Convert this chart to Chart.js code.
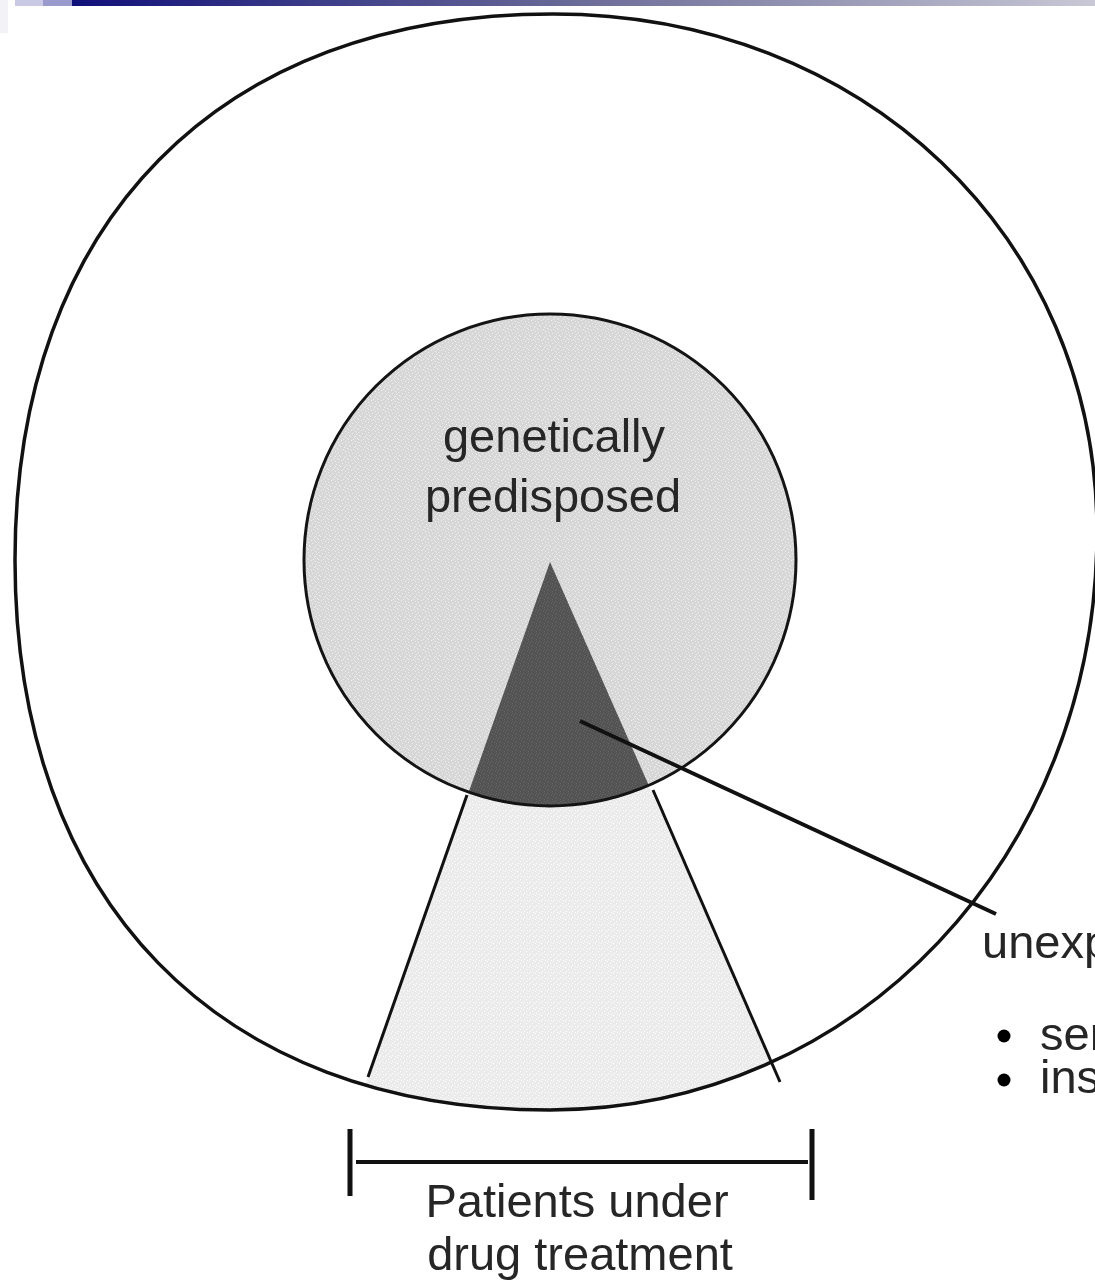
<!DOCTYPE html>
<html>
<head>
<meta charset="utf-8">
<script src="https://cdn.jsdelivr.net/npm/chart.js@4.4.0/dist/chart.umd.min.js"></script>
<style>
    html, body { margin: 0; padding: 0; background: #fff; }
    #wrap { width: 1095px; height: 1285px; position: relative; }
</style>
</head>
<body>
<div id="wrap"><canvas id="diagram"></canvas></div>
<script>
// geometry of the diagram, in chart units (x 0..1095, y 0..1285 from the top)
const outerTop = [553, 14];
const outerRight = [1097, 532];
const outerBottom = [550, 1110];
const outerLeft = [15, 560];
const outerBulge = [0.57, 0.56, 0.62, 0.62]; // TR, BR, BL, TL

const innerCircle = [550, 560, 246]; // cx, cy, r
const wedgeApex = [550, 562];
const wedgeLeft = [368, 1077];
const wedgeRight = [780, 1082];

const coneLeftEdge = [[467, 795], [368, 1077]];
const coneRightEdge = [[653, 790], [780, 1082]];
const pointerLine = [[580, 721], [996, 914]];
const bracketBar = [[356, 1162], [808, 1162]];
const bracketLeft = [[350, 1129], [350, 1196]];
const bracketRight = [[812, 1129], [812, 1200]];

const centerLabel = ["genetically", "predisposed"];
const centerLabelPos = [[554, 452], [553, 512]];
const bottomLabel = ["Patients under", "drug treatment"];
const bottomLabelPos = [[577, 1217], [580, 1270]];
const sideLabel = ["unexpected", "serious", "insufficient"];
const sideLabelPos = [[982, 958], [1040, 1050], [1040, 1093]];
const bulletPos = [[1004, 1036], [1004, 1080]];

const segment = (pts) => pts.map(p => ({ x: p[0], y: p[1] }));

// small fixed stipple tiles, like the halftone of the printed figure
function stipple(base, dot, dots, size) {
    const c = document.createElement("canvas");
    c.width = size; c.height = size;
    const g = c.getContext("2d");
    g.fillStyle = base;
    g.fillRect(0, 0, size, size);
    g.fillStyle = dot;
    dots.forEach(d => g.fillRect(d[0], d[1], 1, 1));
    return c;
}
const innerTile = stipple("#d7d7d7", "#f0f0f0",
    [[1, 0], [5, 1], [8, 2], [2, 3], [6, 4], [9, 5], [0, 6], [4, 7], [7, 8], [3, 9], [8, 9], [5, 6]], 10);
const coneTile = stipple("#ebebeb", "#ffffff", [[1, 1], [4, 3], [2, 5], [5, 0]], 6);
const darkTile = stipple("#535353", "#666666",
    [[0, 1], [3, 0], [5, 2], [1, 4], [4, 5], [2, 2], [6, 6], [7, 3], [0, 7], [3, 6]], 8);

function toPx(chart, p) {
    return [chart.scales.x.getPixelForValue(p[0]), chart.scales.y.getPixelForValue(p[1])];
}

function outerPath(chart, ctx) {
    const t = toPx(chart, outerTop), r = toPx(chart, outerRight);
    const b = toPx(chart, outerBottom), l = toPx(chart, outerLeft);
    const k = outerBulge;
    ctx.beginPath();
    ctx.moveTo(t[0], t[1]);
    ctx.bezierCurveTo(t[0] + (r[0] - t[0]) * k[0], t[1], r[0], r[1] - (r[1] - t[1]) * k[0], r[0], r[1]);
    ctx.bezierCurveTo(r[0], r[1] + (b[1] - r[1]) * k[1], b[0] + (r[0] - b[0]) * k[1], b[1], b[0], b[1]);
    ctx.bezierCurveTo(b[0] - (b[0] - l[0]) * k[2], b[1], l[0], l[1] + (b[1] - l[1]) * k[2], l[0], l[1]);
    ctx.bezierCurveTo(l[0], l[1] - (l[1] - t[1]) * k[3], t[0] - (t[0] - l[0]) * k[3], t[1], t[0], t[1]);
    ctx.closePath();
}

function innerPath(chart, ctx) {
    const c = toPx(chart, innerCircle);
    const r = chart.scales.x.getPixelForValue(innerCircle[0] + innerCircle[2]) - c[0];
    ctx.beginPath();
    ctx.arc(c[0], c[1], r, 0, Math.PI * 2);
    ctx.closePath();
}

function wedgePath(chart, ctx) {
    const a = toPx(chart, wedgeApex), l = toPx(chart, wedgeLeft), r = toPx(chart, wedgeRight);
    ctx.beginPath();
    ctx.moveTo(a[0], a[1]);
    ctx.lineTo(a[0] + (l[0] - a[0]) * 1.3, a[1] + (l[1] - a[1]) * 1.3);
    ctx.lineTo(a[0] + (r[0] - a[0]) * 1.3, a[1] + (r[1] - a[1]) * 1.3);
    ctx.closePath();
}

const shapesPlugin = {
    id: "shapes",
    beforeDatasetsDraw(chart) {
        const ctx = chart.ctx;
        ctx.save();
        // light cone, kept inside the outer ring
        ctx.save();
        outerPath(chart, ctx);
        ctx.clip();
        wedgePath(chart, ctx);
        ctx.fillStyle = ctx.createPattern(coneTile, "repeat");
        ctx.fill();
        ctx.restore();
        // genetically predisposed circle
        innerPath(chart, ctx);
        ctx.fillStyle = ctx.createPattern(innerTile, "repeat");
        ctx.fill();
        // dark overlap
        ctx.save();
        innerPath(chart, ctx);
        ctx.clip();
        wedgePath(chart, ctx);
        ctx.fillStyle = ctx.createPattern(darkTile, "repeat");
        ctx.fill();
        ctx.restore();
        innerPath(chart, ctx);
        ctx.lineWidth = 3;
        ctx.strokeStyle = "#141414";
        ctx.stroke();
        outerPath(chart, ctx);
        ctx.lineWidth = 3.5;
        ctx.strokeStyle = "#111";
        ctx.stroke();
        ctx.restore();
    },
    afterDraw(chart) {
        const ctx = chart.ctx;
        ctx.save();
        // header strip
        const x0 = chart.scales.x.getPixelForValue(0), x1 = chart.scales.x.getPixelForValue(1095);
        const h = chart.scales.y.getPixelForValue(6);
        const grad = ctx.createLinearGradient(72, 0, x1, 0);
        grad.addColorStop(0, "#10107a");
        grad.addColorStop(0.5, "#6c6c98");
        grad.addColorStop(1, "#c8c8d6");
        ctx.fillStyle = grad;
        ctx.fillRect(72, 0, x1 - 72, h);
        ctx.fillStyle = "#c9c9e6";
        ctx.fillRect(15, 0, 28, h);
        ctx.fillStyle = "#9a9acd";
        ctx.fillRect(43, 0, 29, h);
        ctx.fillStyle = "#f3f3f7";
        ctx.fillRect(x0, 0, 8, 33);

        ctx.fillStyle = "#262626";
        ctx.textAlign = "center";
        ctx.textBaseline = "alphabetic";
        ctx.font = "47px 'Liberation Sans', Arial, sans-serif";
        centerLabel.forEach((t, i) => {
            const p = toPx(chart, centerLabelPos[i]);
            ctx.fillText(t, p[0], p[1]);
        });
        bottomLabel.forEach((t, i) => {
            const p = toPx(chart, bottomLabelPos[i]);
            ctx.fillText(t, p[0], p[1]);
        });
        ctx.textAlign = "left";
        sideLabel.forEach((t, i) => {
            const p = toPx(chart, sideLabelPos[i]);
            ctx.fillText(t, p[0], p[1]);
        });
        ctx.fillStyle = "#000";
        bulletPos.forEach(b => {
            const p = toPx(chart, b);
            ctx.beginPath();
            ctx.arc(p[0], p[1], 6.5, 0, Math.PI * 2);
            ctx.fill();
        });
        ctx.restore();
    }
};

const lineSet = (pts, width) => ({
    data: segment(pts),
    showLine: true,
    borderColor: "#111",
    borderWidth: width,
    pointRadius: 0,
    borderCapStyle: "butt",
    clip: false
});

new Chart(document.getElementById("diagram"), {
    type: "scatter",
    data: {
        datasets: [
            lineSet(coneLeftEdge, 3),
            lineSet(coneRightEdge, 3),
            lineSet(pointerLine, 4),
            lineSet(bracketBar, 4),
            lineSet(bracketLeft, 5),
            lineSet(bracketRight, 5)
        ]
    },
    options: {
        responsive: true,
        maintainAspectRatio: false,
        animation: false,
        layout: { padding: 0 },
        scales: {
            x: { type: "linear", min: 0, max: 1095, display: false },
            y: { type: "linear", min: 0, max: 1285, reverse: true, display: false }
        },
        plugins: {
            legend: { display: false },
            tooltip: { enabled: false }
        }
    },
    plugins: [shapesPlugin]
});
</script>
</body>
</html>
